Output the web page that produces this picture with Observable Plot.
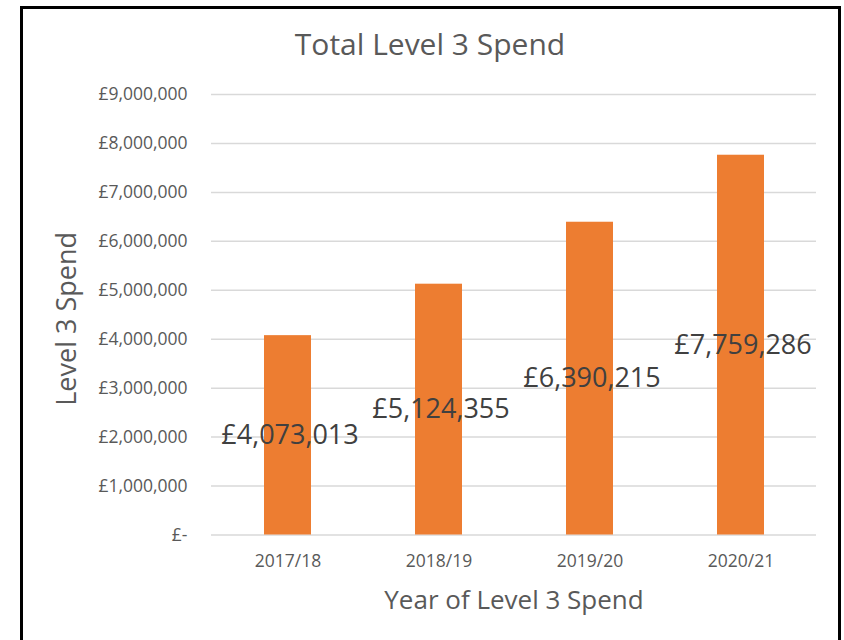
<!DOCTYPE html>
<html>
<head>
<meta charset="utf-8">
<script src="https://cdn.jsdelivr.net/npm/d3@7"></script>
<script src="https://cdn.jsdelivr.net/npm/@observablehq/plot@0.6"></script>
<style>
  html, body { margin: 0; padding: 0; background: #fff; width: 844px; height: 640px; overflow: hidden; }
  #wrap { position: relative; width: 844px; height: 640px; }
  #border { position: absolute; left: 20px; top: 6px; width: 815px; height: 700px; border: 3px solid #000; }
  #chart { position: absolute; left: 0; top: 0; }
</style>
</head>
<body>
<div id="wrap"><div id="border"></div><div id="chart"></div></div>
<script>
const years = ["2017/18", "2018/19", "2019/20", "2020/21"];
const spend = [4073013, 5124355, 6390215, 7759286];
const yTicks = [0, 1000000, 2000000, 3000000, 4000000, 5000000, 6000000, 7000000, 8000000, 9000000];
const titleText = "Total Level 3 Spend";
const xTitle = "Year of Level 3 Spend";
const yTitle = "Level 3 Spend";

const data = years.map((y, i) => ({year: y, value: spend[i]}));
const fmtComma = d3.format(",");
const money = v => v === 0 ? "£-" : "£" + fmtComma(v);

const font = "'Open Sans', sans-serif";

const plot = Plot.plot({
  width: 844,
  height: 640,
  marginLeft: 211,
  marginRight: 28,
  marginTop: 94,
  marginBottom: 105.5,
  style: {fontFamily: font, background: "transparent", overflow: "visible"},
  x: {domain: years, paddingInner: 0.69, paddingOuter: 0.345, label: null},
  y: {domain: [0, 9000000], label: null},
  marks: [
    Plot.gridY(yTicks, {stroke: "#d9d9d9", strokeOpacity: 1, strokeWidth: 1.5}),
    Plot.barY(data, {x: "year", y: "value", fill: "#ED7D31"}),
    Plot.axisY(yTicks, {tickSize: 0, tickPadding: 24, tickFormat: money, fontSize: 17.5, fill: "#595959", label: null}),
    Plot.axisX({tickSize: 0, tickPadding: 20, fontSize: 17.5, fill: "#595959", label: null}),
    Plot.text(data, {x: "year", y: d => d.value / 2, text: d => money(d.value), fontSize: 27, fill: "#404040", dx: 2}),
    Plot.text([titleText], {frameAnchor: "top", dx: -84, dy: -49, lineAnchor: "middle", fontSize: 30, fill: "#595959"}),
    Plot.text([xTitle], {frameAnchor: "bottom", dy: 66, lineAnchor: "middle", fontSize: 26, fill: "#595959"}),
    Plot.text([yTitle], {frameAnchor: "left", dx: -144, dy: 91, rotate: -90, lineAnchor: "middle", fontSize: 27, fill: "#595959"})
  ]
});
document.getElementById("chart").appendChild(plot);
</script>
</body>
</html>
